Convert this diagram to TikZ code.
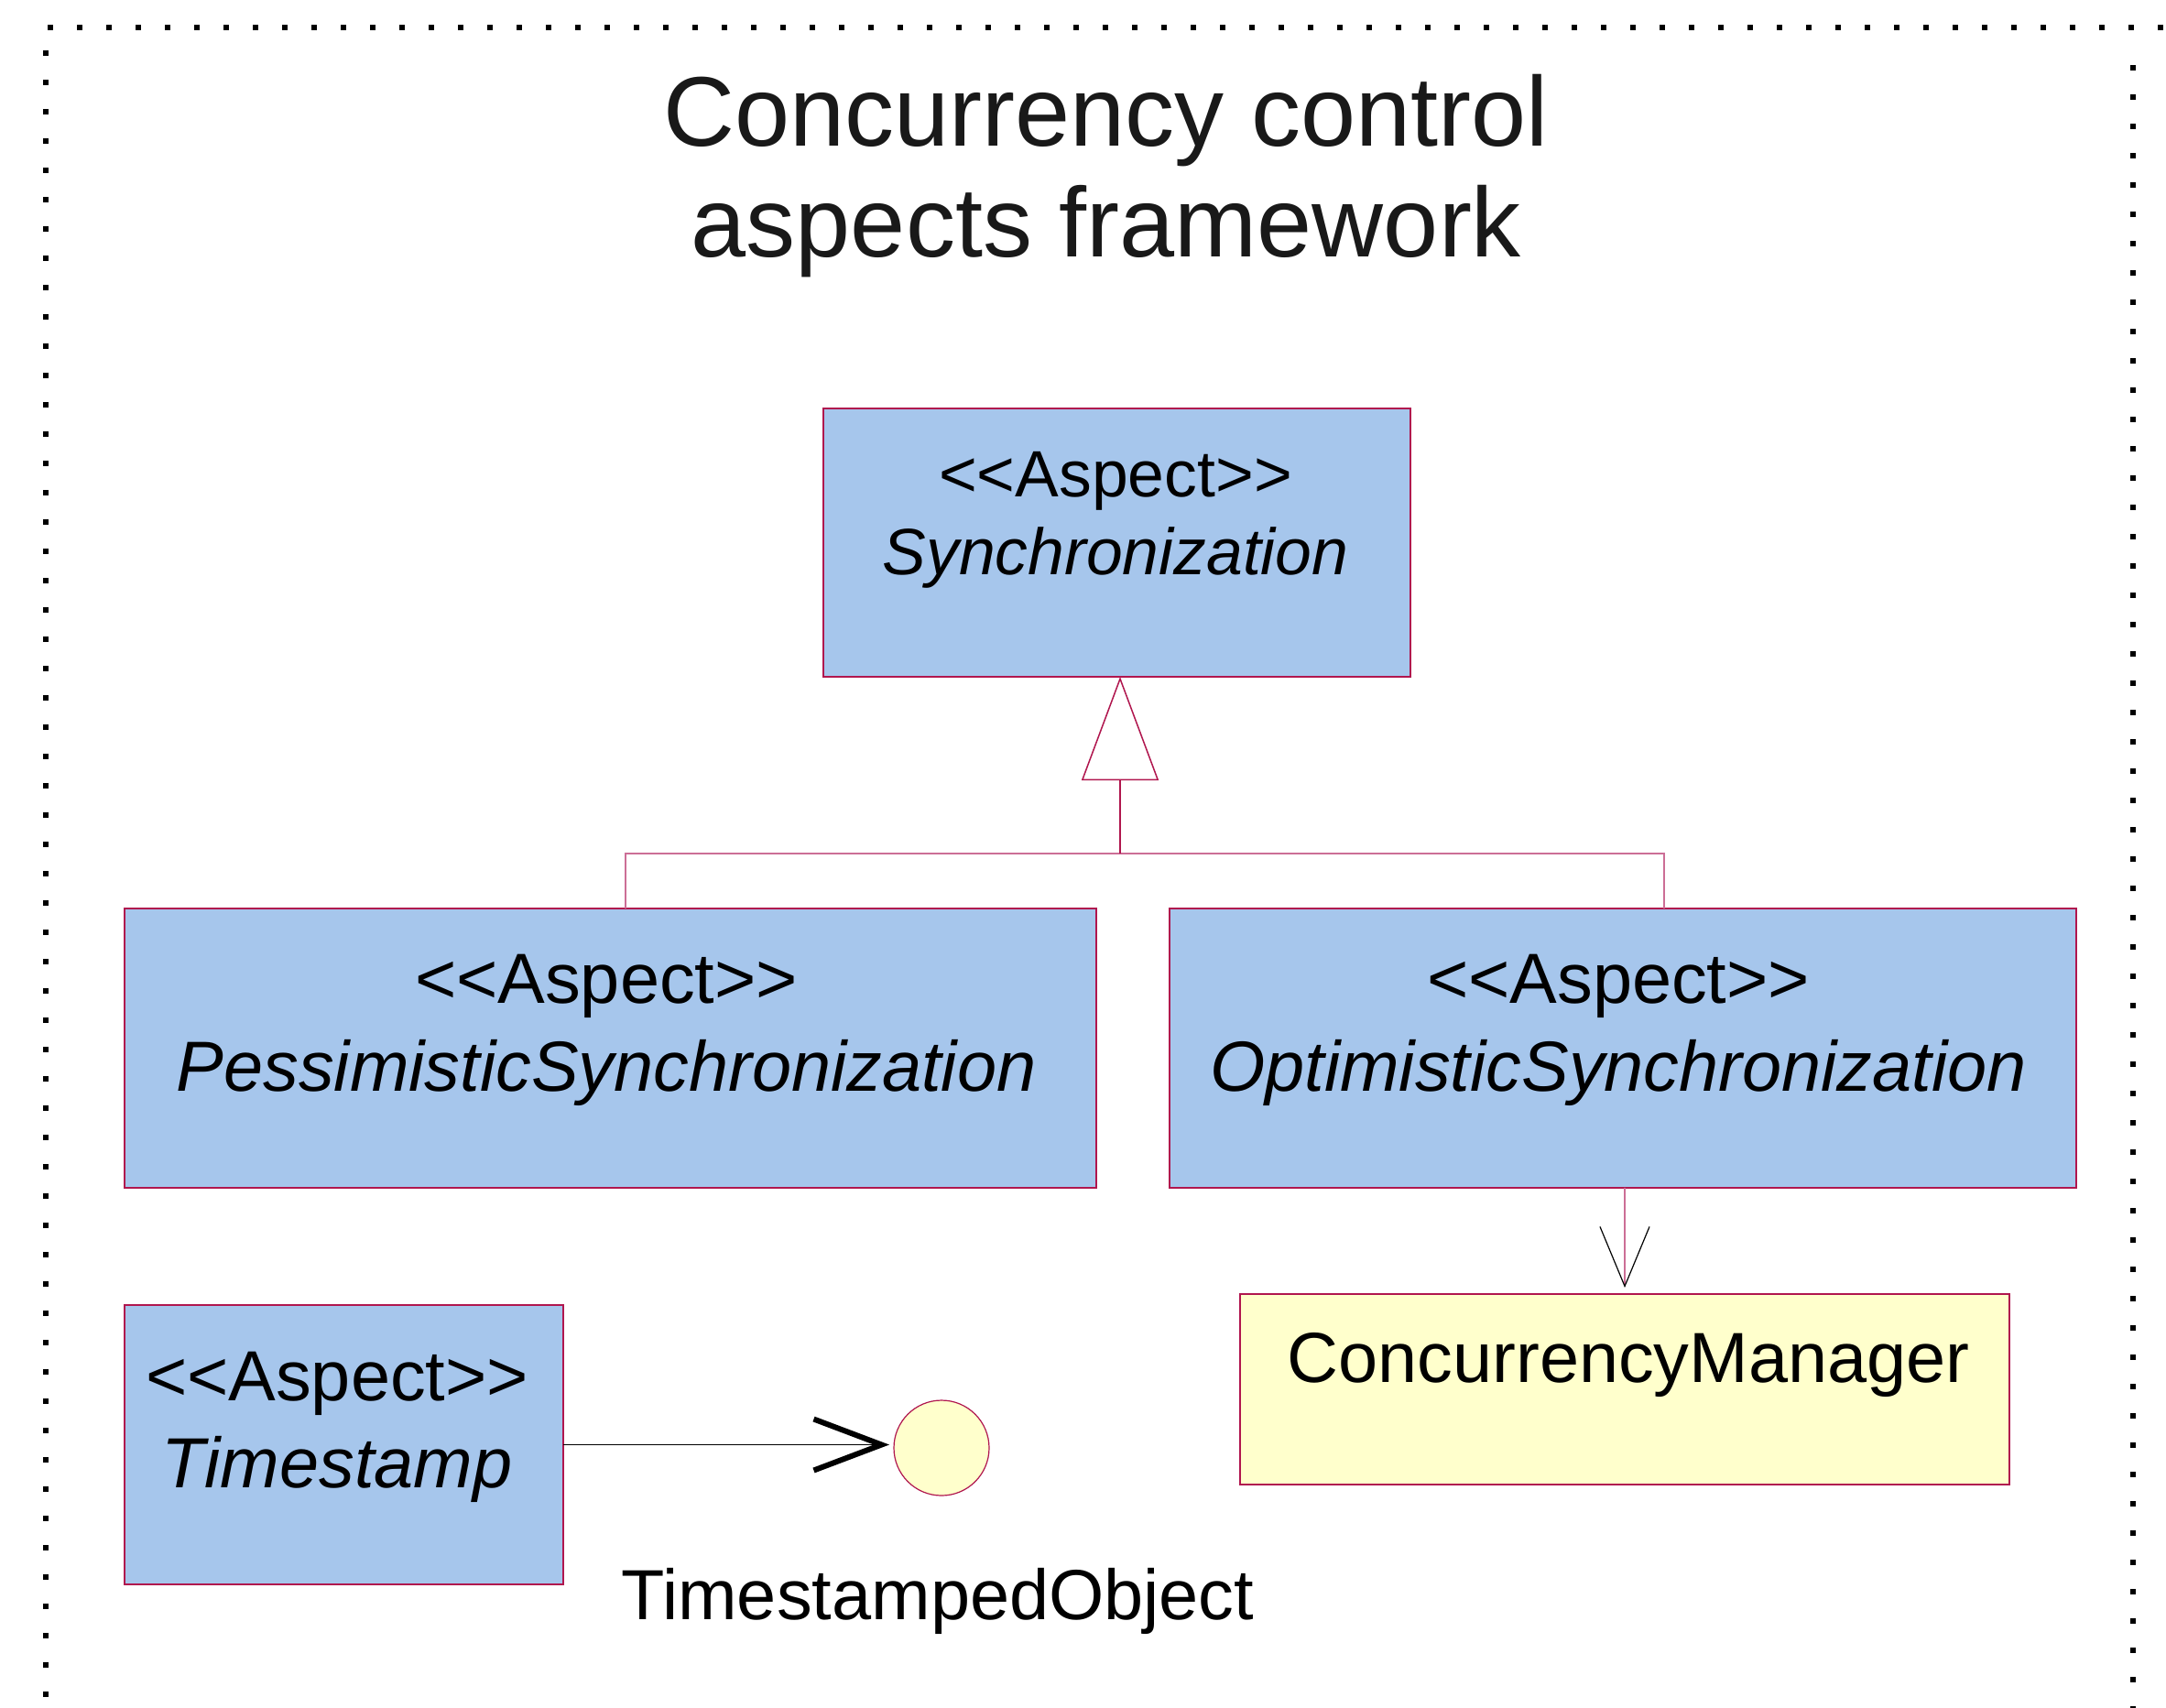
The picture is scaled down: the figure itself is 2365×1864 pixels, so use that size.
\documentclass[tikz,border=0pt]{standalone}
\usepackage{fontspec}
\setmainfont{Liberation Sans}
\usepackage{xcolor}
\usetikzlibrary{positioning,arrows.meta}
\definecolor{aspectblue}{RGB}{166,198,236}
\definecolor{umlred}{RGB}{176,22,78}
\definecolor{umlpink}{RGB}{204,110,150}
\definecolor{umlyellow}{RGB}{255,255,204}
\newcommand{\stereo}{<\kern0pt<Aspect>\kern0pt>}
\tikzset{
  aspect/.style={draw=umlred, fill=aspectblue, line width=0.75pt, inner sep=0pt, outer sep=0pt},
  klass/.style={draw=umlred, fill=umlyellow, line width=0.75pt, inner sep=0pt, outer sep=0pt},
  iface/.style={circle, draw=umlred, fill=umlyellow, line width=0.6pt, minimum size=52pt, inner sep=0pt, outer sep=0pt},
  txt/.style={anchor=base, align=center, inner sep=0pt, font=\fontsize{38.75}{48}\selectfont},
  hier/.style={draw=umlpink, line width=0.75pt},
  gen/.style={draw=umlred, line width=0.75pt, -{Triangle[open, length=56.5pt, width=42pt]}},
  dep/.style={draw=umlpink, line width=0.75pt, -{Straight Barb[length=32.5pt, width=27pt, color=black, line width=0.6pt]}},
  use/.style={draw=black, line width=0.7pt, -{Straight Barb[length=37pt, width=28pt, line width=3pt]}},
  frame/.style={line width=3pt, dash pattern=on 3pt off 13pt}
}

\begin{document}
\begin{tikzpicture}[x=0.5pt, y=-0.5pt]
  \clip (0,0) rectangle (2365,1864);
  \fill[white] (0,0) rectangle (2365,1864);
  \draw[frame] (52,30) -- (2365,30);
  \draw[frame] (50,55) -- (50,1880);
  \draw[frame] (2329,71) -- (2329,1880);

  \node[txt, font=\fontsize{54}{60.5}\selectfont, text=black!90] (title) at (1208,280)
    {Concurrency control\\aspects framework};

  \node[aspect, minimum width=320.5pt, minimum height=146.5pt] (sync) at (1219.5,592.5) {};
  \node[aspect, minimum width=530.5pt, minimum height=152.5pt] (pess) at (666.5,1144.5) {};
  \node[aspect, minimum width=495pt, minimum height=152.5pt] (opt) at (1772,1144.5) {};
  \node[aspect, minimum width=239.5pt, minimum height=152.5pt] (ts) at (375.5,1577.5) {};
  \node[klass, minimum width=420pt, minimum height=104pt] (cm) at (1774,1517) {};
  \node[iface] (obj) at (1028,1581) {};

  \node[txt, font=\fontsize{35.75}{42.5}\selectfont] (syncTxt) at (1218,627)
    {\stereo\\\textit{Synchronization}};
  \node[txt] (pessTxt) at (662,1191) {\stereo\\\textit{PessimisticSynchronization}};
  \node[txt] (optTxt) at (1767,1191) {\stereo\\\textit{OptimisticSynchronization}};
  \node[txt, font=\fontsize{38.75}{47.5}\selectfont] (tsTxt) at (368,1624) {\stereo\\\textit{Timestamp}};
  \node[txt] (cmTxt) at (1778,1509) {ConcurrencyManager};
  \node[txt] (objTxt) at (1024,1768) {TimestampedObject};

  \coordinate (jn) at (1223,932);
  \draw[hier] ([xshift=8.25pt]pess.north) |- (jn) -| ([xshift=22.5pt]opt.north);
  \draw[gen] (jn) -- (sync.south -| jn);
  \draw[dep, shorten >=3.5pt] (cm.north |- opt.south) -- (cm.north);
  \draw[use, shorten >=2.5pt] (ts.east) -- (ts.east -| obj.west);
\end{tikzpicture}
\end{document}
